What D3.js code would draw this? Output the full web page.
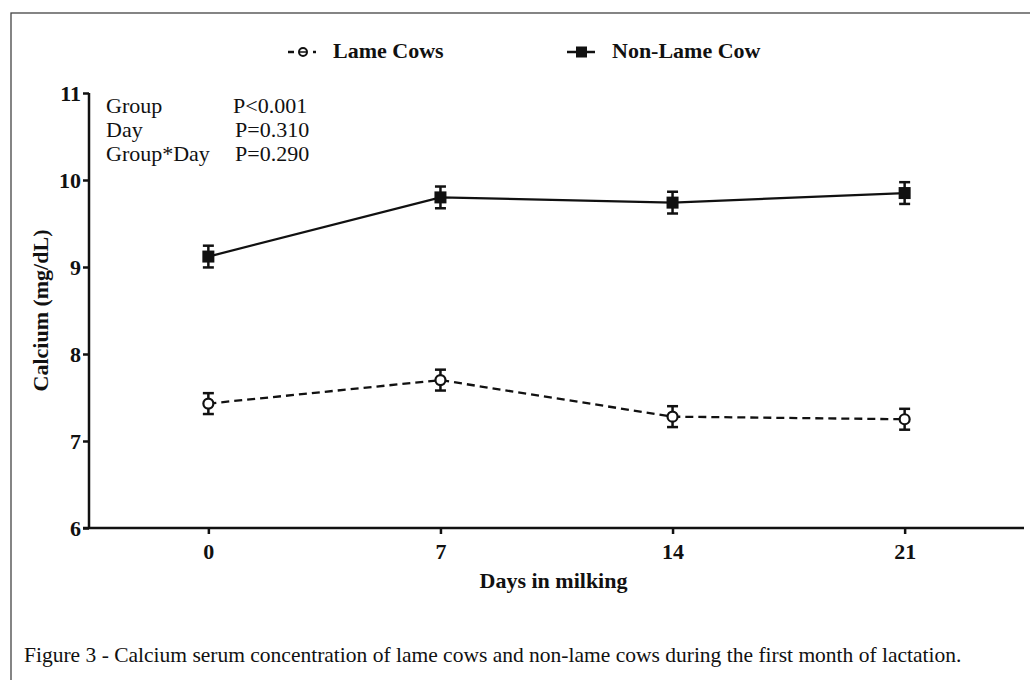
<!DOCTYPE html>
<html>
<head>
<meta charset="utf-8">
<script src="https://cdn.jsdelivr.net/npm/d3@7"></script>
<style>
  html, body { margin: 0; padding: 0; background: #fff; }
  svg text { font-family: "Liberation Serif", "Times New Roman", serif; fill: #111; }
</style>
</head>
<body>
<div id="chart"></div>
<script>
(function() {
  const width = 1030, height = 680;

  // values
  const days = [0, 7, 14, 21];
  const nonLameMean = [9.12, 9.80, 9.74, 9.85];
  const nonLameErr = [0.125, 0.125, 0.125, 0.125];
  const lameMean = [7.43, 7.70, 7.28, 7.25];
  const lameErr = [0.12, 0.12, 0.12, 0.12];
  const yTicks = [6, 7, 8, 9, 10, 11];
  const statsRows = [
    ['Group', 'P<0.001'],
    ['Day', 'P=0.310'],
    ['Group*Day', 'P=0.290']
  ];

  const svg = d3.select('#chart').append('svg')
    .attr('width', width).attr('height', height);

  // frame (only top and left edges fall inside the picture)
  svg.append('rect')
    .attr('x', 11).attr('y', 13)
    .attr('width', 1040).attr('height', 700)
    .attr('fill', 'none').attr('stroke', '#444').attr('stroke-width', 1.3);

  const x = d3.scaleLinear().domain([-3.6, 24.6]).range([89, 1024]);
  const y = d3.scaleLinear().domain([6, 11]).range([528, 93]);

  // y axis
  const yAxis = svg.append('g').attr('transform', `translate(${x(-3.6)},0)`)
    .call(d3.axisLeft(y).tickValues(yTicks).tickSize(6).tickPadding(2).tickFormat(d3.format('d')));
  yAxis.select('.domain').attr('d', `M0,${y(11)}V${y(6)}`);
  yAxis.selectAll('path, line').attr('stroke', '#111').attr('stroke-width', 2.5);
  yAxis.selectAll('text')
    .attr('font-family', '"Liberation Serif", serif')
    .attr('font-weight', 'bold').attr('font-size', 22).attr('fill', '#111');

  // x axis
  const xAxis = svg.append('g').attr('transform', `translate(0,${y(6)})`)
    .call(d3.axisBottom(x).tickValues(days).tickSize(6).tickPadding(9));
  xAxis.select('.domain').attr('d', `M83,0H${x.range()[1]}`);
  xAxis.selectAll('path, line').attr('stroke', '#111').attr('stroke-width', 2.5);
  xAxis.selectAll('text')
    .attr('font-family', '"Liberation Serif", serif')
    .attr('font-weight', 'bold').attr('font-size', 22).attr('fill', '#111');

  // axis titles
  svg.append('text')
    .attr('transform', `translate(48,${(y(6) + y(11)) / 2}) rotate(-90)`)
    .attr('text-anchor', 'middle')
    .attr('font-weight', 'bold').attr('font-size', 22)
    .text('Calcium (mg/dL)');
  svg.append('text')
    .attr('x', (83 + x.range()[1]) / 2).attr('y', 588)
    .attr('text-anchor', 'middle')
    .attr('font-weight', 'bold').attr('font-size', 22)
    .text('Days in milking');

  // statistics block
  const stats = svg.append('g');
  statsRows.forEach((r, i) => {
    stats.append('text').attr('x', 106).attr('y', 113 + i * 24)
      .attr('font-size', 22).text(r[0]);
    stats.append('text').attr('x', i === 0 ? 233 : 235).attr('y', 113 + i * 24)
      .attr('font-size', 22).text(r[1]);
  });

  const nonLame = days.map((d, i) => ({ day: d, v: nonLameMean[i], e: nonLameErr[i] }));
  const lame = days.map((d, i) => ({ day: d, v: lameMean[i], e: lameErr[i] }));

  const line = d3.line().x(d => x(d.day)).y(d => y(d.v));

  function drawSeries(data, dashed, marker) {
    const g = svg.append('g');
    g.append('path')
      .attr('d', line(data))
      .attr('fill', 'none').attr('stroke', '#111').attr('stroke-width', 2.3)
      .attr('stroke-dasharray', dashed ? '8,5' : null);
    const pts = g.selectAll('.pt').data(data).join('g')
      .attr('class', 'pt')
      .attr('transform', d => `translate(${x(d.day)},0)`);
    pts.append('line')
      .attr('y1', d => y(d.v + d.e)).attr('y2', d => y(d.v - d.e))
      .attr('stroke', '#111').attr('stroke-width', 2.5);
    pts.append('line').attr('x1', -5.5).attr('x2', 5.5)
      .attr('y1', d => y(d.v + d.e)).attr('y2', d => y(d.v + d.e))
      .attr('stroke', '#111').attr('stroke-width', 2.5);
    pts.append('line').attr('x1', -5.5).attr('x2', 5.5)
      .attr('y1', d => y(d.v - d.e)).attr('y2', d => y(d.v - d.e))
      .attr('stroke', '#111').attr('stroke-width', 2.5);
    if (marker === 'square') {
      pts.append('rect')
        .attr('x', -6).attr('y', d => y(d.v) - 6)
        .attr('width', 12).attr('height', 12).attr('fill', '#111');
    } else {
      pts.append('circle')
        .attr('cy', d => y(d.v)).attr('r', 5)
        .attr('fill', '#fff').attr('stroke', '#111').attr('stroke-width', 2.2);
    }
  }

  drawSeries(lame, true, 'circle');
  drawSeries(nonLame, false, 'square');

  // legend
  const leg = svg.append('g');
  leg.append('line').attr('x1', 288).attr('x2', 294).attr('y1', 52).attr('y2', 52)
    .attr('stroke', '#111').attr('stroke-width', 2.5);
  leg.append('line').attr('x1', 313).attr('x2', 316).attr('y1', 52).attr('y2', 52)
    .attr('stroke', '#111').attr('stroke-width', 2.5);
  leg.append('circle').attr('cx', 303).attr('cy', 52).attr('r', 4)
    .attr('fill', '#fff').attr('stroke', '#111').attr('stroke-width', 2);
  leg.append('line').attr('x1', 299).attr('x2', 307).attr('y1', 52).attr('y2', 52)
    .attr('stroke', '#111').attr('stroke-width', 1.5);
  leg.append('text').attr('x', 333).attr('y', 58)
    .attr('font-weight', 'bold').attr('font-size', 22).text('Lame Cows');

  leg.append('line').attr('x1', 567).attr('x2', 595).attr('y1', 52).attr('y2', 52)
    .attr('stroke', '#111').attr('stroke-width', 2.5);
  leg.append('rect').attr('x', 576).attr('y', 46.5).attr('width', 11).attr('height', 11)
    .attr('fill', '#111');
  leg.append('text').attr('x', 612).attr('y', 58)
    .attr('font-weight', 'bold').attr('font-size', 22).text('Non-Lame Cow');

  // caption
  svg.append('text').attr('x', 24).attr('y', 662)
    .attr('font-size', 21.5)
    .text('Figure 3 - Calcium serum concentration of lame cows and non-lame cows during the first month of lactation.');
})();
</script>
</body>
</html>
